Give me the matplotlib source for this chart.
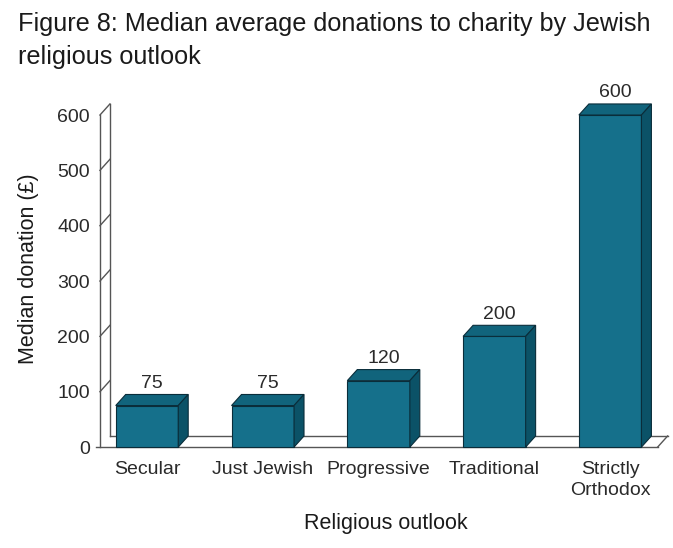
import matplotlib.pyplot as plt
from matplotlib.patches import Polygon

plt.rcParams['font.family'] = ['Liberation Sans', 'DejaVu Sans']

# median donation by religious outlook
categories = ['Secular', 'Just Jewish', 'Progressive', 'Traditional', 'Strictly\nOrthodox']
donations = [75, 75, 120, 200, 600]
y_ticks = [0, 100, 200, 300, 400, 500, 600]

face_col = '#15708b'
top_col = '#11647c'
side_col = '#0b5267'
edge_col = '#0a2d3a'
line_col = '#555555'
text_col = '#2a2a2a'

# pseudo-3d depth offsets (x in category units, y in pounds)
dx, dy = 0.086, 20
half = 0.27

fig = plt.figure(figsize=(6.73, 5.48), dpi=100)
ax = fig.add_axes([0.1358, 0.164, 0.8569, 0.6867])
ax.set_xlim(-0.48, 4.5)
ax.set_ylim(-20, 660)
for s in ax.spines.values():
    s.set_visible(False)

# back wall with slanted ticks
wx = -0.406
ax.plot([wx, wx], [0, 600], color=line_col, lw=1, clip_on=False)
ax.plot([wx + dx, wx + dx], [dy, 600 + dy], color=line_col, lw=1, clip_on=False)
for t in y_ticks[1:]:
    ax.plot([wx, wx + dx], [t, t + dy], color=line_col, lw=1, clip_on=False)

# floor
fx_end = 4.41
ax.plot([wx - 0.03, fx_end], [0, 0], color=line_col, lw=1, clip_on=False, zorder=1)
ax.plot([wx + dx, fx_end + dx], [dy, dy], color=line_col, lw=1, clip_on=False, zorder=1)
ax.plot([fx_end, fx_end + dx], [0, dy], color=line_col, lw=1, clip_on=False, zorder=1)

for i, v in enumerate(donations):
    x0, x1 = i - half, i + half
    front = Polygon([(x0, 0), (x1, 0), (x1, v), (x0, v)], closed=True,
                    facecolor=face_col, edgecolor=edge_col, lw=0.8, zorder=3)
    top = Polygon([(x0, v), (x1, v), (x1 + dx, v + dy), (x0 + dx, v + dy)], closed=True,
                  facecolor=top_col, edgecolor=edge_col, lw=0.8, zorder=3)
    side = Polygon([(x1, 0), (x1 + dx, dy), (x1 + dx, v + dy), (x1, v)], closed=True,
                   facecolor=side_col, edgecolor=edge_col, lw=0.8, zorder=3)
    for p in (front, top, side):
        ax.add_patch(p)
    ax.text(i + dx / 2, v + dy + 5, str(v), ha='center', va='bottom',
            fontsize=14, color=text_col)

ax.set_yticks(y_ticks)
ax.set_yticklabels([str(t) for t in y_ticks], fontsize=14, color=text_col)
ax.set_xticks(range(len(categories)))
ax.set_xticklabels(categories, fontsize=14, color=text_col, linespacing=1.35)
ax.tick_params(axis='both', length=0)
ax.tick_params(axis='y', pad=1)
ax.tick_params(axis='x', pad=2)

fig.text(0.042, 0.51, 'Median donation (£)', ha='center', va='center', rotation=90,
         fontsize=15.5, color='#1a1a1a')
fig.text(0.574, 0.045, 'Religious outlook', ha='center', va='center',
         fontsize=15.5, color='#1a1a1a')

fig.text(0.027, 0.978, 'Figure 8: Median average donations to charity by Jewish\nreligious outlook',
         ha='left', va='top', fontsize=18.2, color='#1a1a1a', linespacing=1.45)

fig.savefig('out.png', dpi=100)
